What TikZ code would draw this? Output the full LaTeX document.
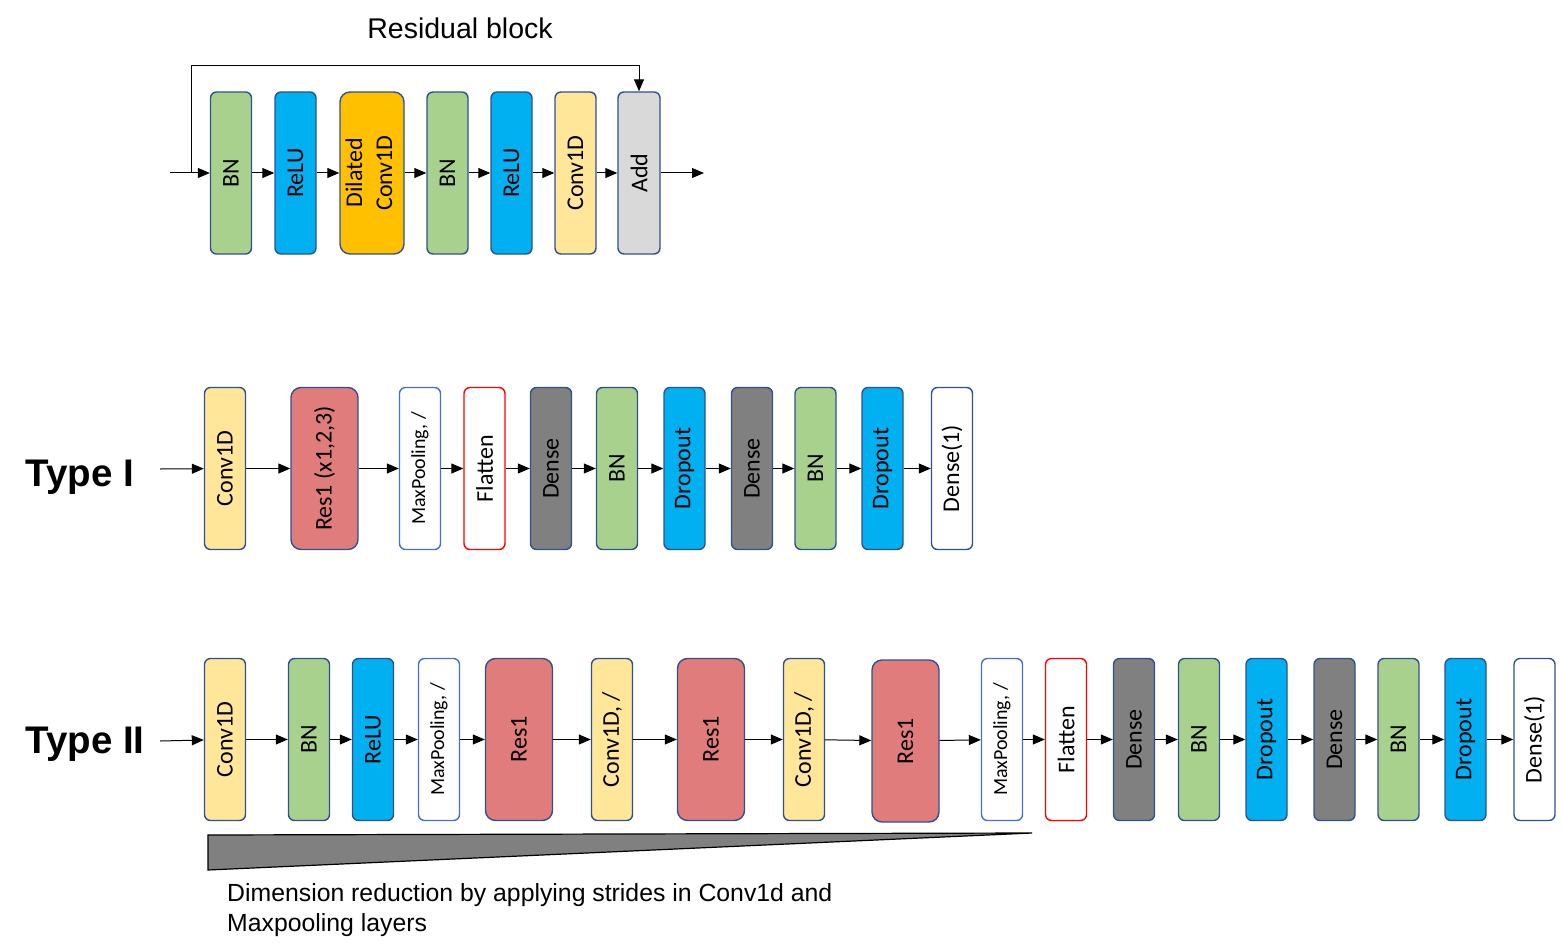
\documentclass[tikz,border=0pt]{standalone}
\usepackage{fontspec}
\setmainfont{Liberation Sans}
\newfontfamily\carl{Carlito}
\usetikzlibrary{arrows.meta}
\definecolor{bord}{HTML}{2F528F}
\definecolor{lbord}{HTML}{4472C4}
\definecolor{cgreen}{HTML}{A9D18E}
\definecolor{cblue}{HTML}{00B0F0}
\definecolor{corange}{HTML}{FFC000}
\definecolor{cyellow}{HTML}{FFE699}
\definecolor{cgrey}{HTML}{D9D9D9}
\definecolor{cres}{HTML}{E07C7C}
\definecolor{cdense}{HTML}{808080}
\tikzset{
  blk/.style={draw=bord, line width=1.4pt, rounded corners=6pt, inner sep=0pt,
    minimum height=162pt, minimum width=41pt, font=\carl\fontsize{24}{26}\selectfont},
  wide/.style={minimum width=67pt, rounded corners=10pt},
  bnbox/.style={blk, fill=cgreen},
  relubox/.style={blk, fill=cblue},
  convbox/.style={blk, fill=cyellow},
  dilbox/.style={blk, fill=corange, minimum width=64pt, rounded corners=10pt},
  addbox/.style={blk, fill=cgrey},
  resbox/.style={blk, wide, fill=cres},
  mpbox/.style={blk, fill=white, draw=lbord, font=\carl\fontsize{20}{22}\selectfont},
  flatbox/.style={blk, fill=white, draw=red},
  densebox/.style={blk, fill=cdense},
  finalbox/.style={blk, fill=white},
  arr/.style={-{Triangle[length=12pt,width=10pt]}, line width=1pt, black}
}
\newcommand{\rt}[1]{\rotatebox{90}{#1}}
\begin{document}
\begin{tikzpicture}[x=1pt,y=-1pt]
\useasboundingbox (0,0) rectangle (1562,952);

% ---------- Residual block ----------
\node[font=\fontsize{28.5}{30}\selectfont] (title) at (460,28) {Residual block};
\node[bnbox]   (r1) at (231,173)   {\rt{BN}};
\node[relubox] (r2) at (295.5,173) {\rt{ReLU}};
\node[dilbox]  (r3) at (372,173)   {\rt{\begin{tabular}{@{}c@{}}Dilated\\[4pt]Conv1D\end{tabular}}};
\node[bnbox]   (r4) at (447.5,173) {\rt{BN}};
\node[relubox] (r5) at (511.5,173) {\rt{ReLU}};
\node[convbox] (r6) at (575.5,173) {\rt{Conv1D}};
\node[addbox,minimum width=42pt] (r7) at (639,173) {\rt{Add}};
\coordinate (rin) at (170,173);
\coordinate (rbr) at (191,173);
\coordinate (rout) at (704,173);
\draw[arr] (rin) -- (r1);
\draw[arr] (rbr) |- (639,66) -- (r7.north);
\draw[arr] (r1) -- (r2);
\draw[arr] (r2) -- (r3);
\draw[arr] (r3) -- (r4);
\draw[arr] (r4) -- (r5);
\draw[arr] (r5) -- (r6);
\draw[arr] (r6) -- (r7);
\draw[arr] (r7) -- (rout);

% ---------- Type I ----------
\node[font=\bfseries\fontsize{38.5}{40}\selectfont, anchor=west] (t1) at (22,477) {Type I};
\coordinate (ain) at (160,469);
\node[convbox]  (a1)  at (225,468.5)   {\rt{Conv1D}};
\node[resbox]   (a2)  at (324.5,468.5) {\rt{Res1 (x1,2,3)}};
\node[mpbox]    (a3)  at (420,468.5)   {\rt{MaxPooling, /}};
\node[flatbox]  (a4)  at (484.5,468.5) {\rt{Flatten}};
\node[densebox] (a5)  at (551,468.5)   {\rt{Dense}};
\node[bnbox]    (a6)  at (617,468.5)   {\rt{BN}};
\node[relubox]  (a7)  at (684.5,468.5) {\rt{Dropout}};
\node[densebox] (a8)  at (752,468.5)   {\rt{Dense}};
\node[bnbox]    (a9)  at (815.5,468.5) {\rt{BN}};
\node[relubox]  (a10) at (882.5,468.5) {\rt{Dropout}};
\node[finalbox] (a11) at (952,468.5)   {\rt{Dense(1)}};
\draw[arr] (ain) -- (a1);
\foreach \i/\j in {1/2,2/3,3/4,4/5,5/6,6/7,7/8,8/9,9/10,10/11}
  \draw[arr] (a\i) -- (a\j);

% ---------- Type II ----------
\node[font=\bfseries\fontsize{38.5}{40}\selectfont, anchor=west] (t2) at (22,744) {Type II};
\coordinate (bin) at (160,741);
\node[convbox]  (b1)  at (225,739.5)    {\rt{Conv1D}};
\node[bnbox]    (b2)  at (309,739.5)    {\rt{BN}};
\node[relubox]  (b3)  at (373,739.5)    {\rt{ReLU}};
\node[mpbox]    (b4)  at (439,739.5)    {\rt{MaxPooling, /}};
\node[resbox]   (b5)  at (519,739.5)    {\rt{Res1}};
\node[convbox]  (b6)  at (612,739.5)    {\rt{Conv1D, /}};
\node[resbox]   (b7)  at (711,739.5)    {\rt{Res1}};
\node[convbox]  (b8)  at (804,739.5)    {\rt{Conv1D, /}};
\node[resbox]   (b9)  at (905.5,741)    {\rt{Res1}};
\node[mpbox]    (b10) at (1002,739.5)   {\rt{MaxPooling, /}};
\node[flatbox]  (b11) at (1066,739.5)   {\rt{Flatten}};
\node[densebox] (b12) at (1134,739.5)   {\rt{Dense}};
\node[bnbox]    (b13) at (1199,739.5)   {\rt{BN}};
\node[relubox]  (b14) at (1266.5,739.5) {\rt{Dropout}};
\node[densebox] (b15) at (1334.5,739.5) {\rt{Dense}};
\node[bnbox]    (b16) at (1398.5,739.5) {\rt{BN}};
\node[relubox]  (b17) at (1465.5,739.5) {\rt{Dropout}};
\node[finalbox] (b18) at (1534.5,739.5) {\rt{Dense(1)}};
\draw[arr] (bin) -- (b1);
\foreach \i/\j in {1/2,2/3,3/4,4/5,5/6,6/7,7/8,8/9,9/10,10/11,11/12,12/13,13/14,14/15,15/16,16/17,17/18}
  \draw[arr] (b\i) -- (b\j);

% ---------- Dimension reduction wedge ----------
\draw[line width=1.2pt, fill=cdense] (208,835) -- (1032,833) -- (208,870) -- cycle;
\node[anchor=base west, inner sep=0pt, font=\fontsize{24.8}{26}\selectfont] (d1) at (227,901)
  {Dimension reduction by applying strides in Conv1d and};
\node[anchor=base west, inner sep=0pt, font=\fontsize{24.8}{26}\selectfont] (d2) at (227,931)
  {Maxpooling layers};
\end{tikzpicture}
\end{document}
